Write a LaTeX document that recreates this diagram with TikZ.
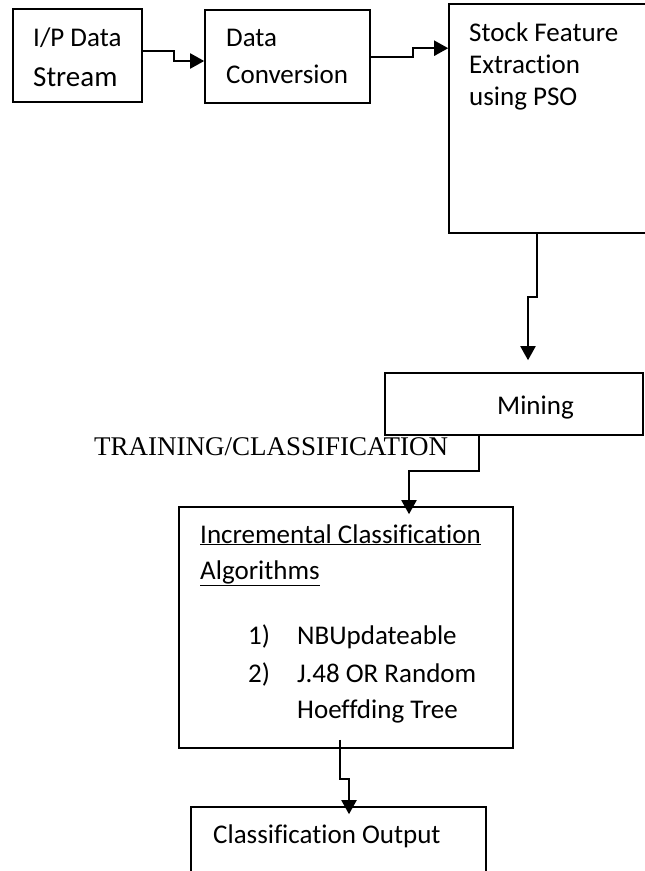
\documentclass[tikz,border=0pt]{standalone}
\usepackage{fontspec}
\setmainfont{Carlito}[Ligatures=NoCommon]
\newfontfamily\timesfont{Liberation Serif}
\usepackage{tikz}
\usetikzlibrary{calc}
\usetikzlibrary{arrows.meta}
\tikzset{
    % 方框样式
    blockbox/.style={
        draw,
        line width=1.6pt,
        rectangle,
        inner sep=0pt
    },
    % 文字样式
    boxtext/.style={
        font=\fontsize{27}{32}\selectfont,
        inner sep=0pt,
        anchor=base west
    },
    % 折线箭头样式
    flowarrow/.style={
        line width=2pt,
        black,
        ->,
        >={Triangle[length=14pt, width=15pt]}
    }
}
\begin{document}
\begin{tikzpicture}[x=1pt,y=-1pt]
	\useasboundingbox (0,0) rectangle (645,871);
	\clip (0,0) rectangle (645,871);
	
	% 方框
	\node[blockbox,minimum width=129pt,minimum height=93pt] (stream) at (77.5,55.5) {};
	\node[blockbox,minimum width=165pt,minimum height=93pt] (conv) at (287.5,56.5) {};
	\node[blockbox,minimum width=231pt,minimum height=229pt] (pso) at (564.5,118.5) {};
	\node[blockbox,minimum width=258pt,minimum height=62pt] (mining) at (514,404) {};
	\node[blockbox,minimum width=334pt,minimum height=241pt] (incr) at (346,627.5) {};
	\node[blockbox,minimum width=295pt,minimum height=93pt] (output) at (338.5,853.5) {};
	
	% 折线箭头
	\draw[flowarrow] ($(stream.east)+(0,-4.5)$) -- ++(31,0) |- ($(conv.west)+(0,4.5)$);
	\draw[flowarrow] ($(conv.east)+(0,0.5)$) -- ++(42,0) |- ($(pso.north west)+(0,45)$);
	\draw[flowarrow] ($(pso.south)+(-27.5,0)$) -- ++(0,63) -| ($(mining.north)+(14,-12)$);
	\draw[flowarrow] ($(mining.south)+(-35,-2)$) -- ++(0,37) -| ($(incr.north)+(63,8)$);
	\draw[flowarrow] ($(incr.south)+(-6,-9)$) -- ++(0,39) -| ($(output.north)+(10.5,8)$);
	
	% 文字标注
	\node[boxtext] (t1a) at (33,46) {I/P Data};
	\node[boxtext,font=\fontsize{29}{34}\selectfont] (t1b) at (33,86) {Stream};
	\node[boxtext] (t2a) at (226,46) {Data};
	\node[boxtext] (t2b) at (226,83) {Conversion};
	\node[boxtext] (t3a) at (469,41) {Stock Feature};
	\node[boxtext] (t3b) at (469,73) {Extraction};
	\node[boxtext] (t3c) at (469,105) {using PSO};
	\node[boxtext] (t4) at (497,414) {Mining};
	\node[boxtext,font=\timesfont\fontsize{27}{32}\selectfont] (train) at (94,455) {TRAINING/CLASSIFICATION};
	\node[boxtext] (t5a) at (200,543) {\underline{Incremental Classification}};
	\node[boxtext] (t5b) at (200,579) {\underline{Algorithms}};
	\node[boxtext] (n1) at (248,644) {1)};
	\node[boxtext] (t5c) at (297,644) {NBUpdateable};
	\node[boxtext] (n2) at (248,682) {2)};
	\node[boxtext] (t5d) at (297,682) {J.48 OR Random};
	\node[boxtext] (t5e) at (297,718) {Hoeffding Tree};
	\node[boxtext] (t6) at (213,843) {Classification Output};
\end{tikzpicture}
\end{document}
